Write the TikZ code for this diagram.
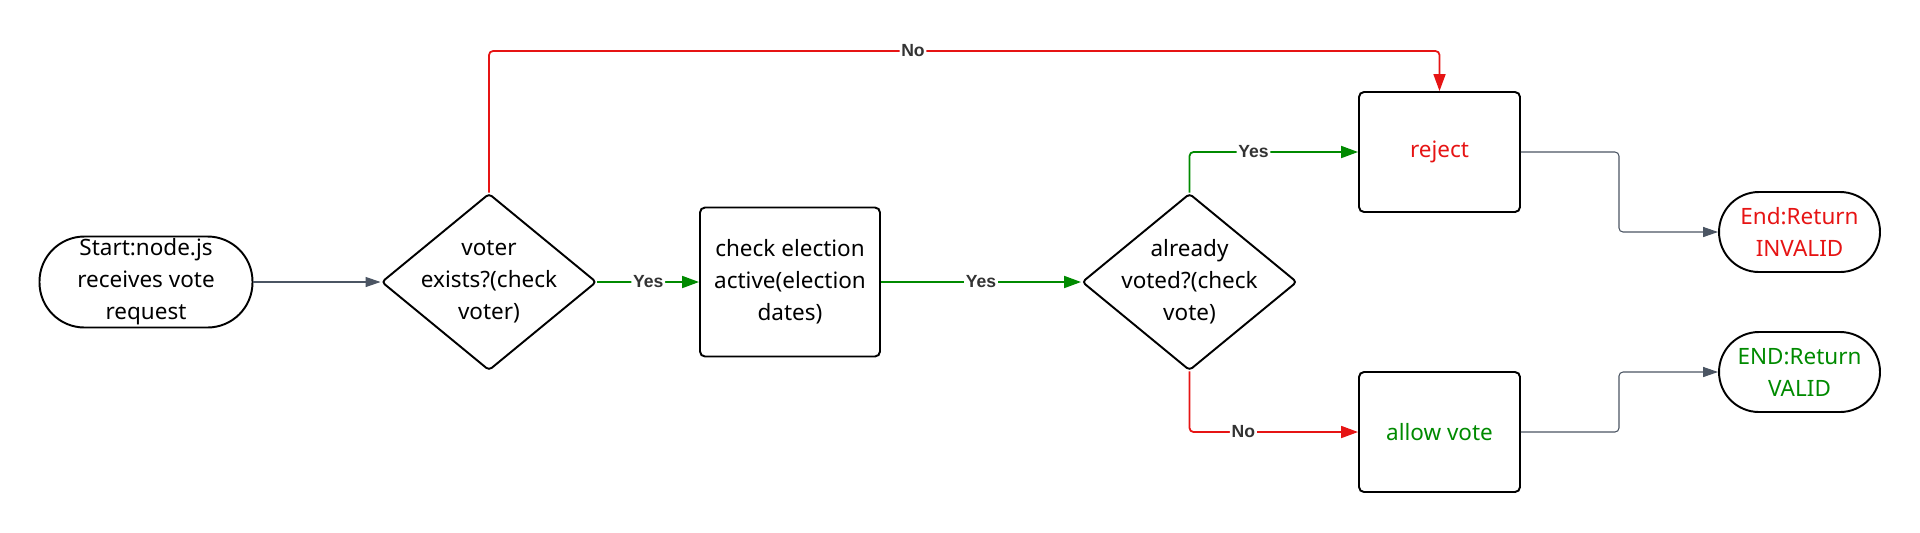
\documentclass[tikz,border=0pt]{standalone}
\usepackage{fontspec}
\setmainfont{Noto Sans}
\newfontfamily\labelfont{Liberation Sans}
\usepackage{tikz}
\usetikzlibrary{shapes.geometric,arrows.meta}
\definecolor{noRed}{RGB}{230,20,20}
\definecolor{yesGreen}{RGB}{0,138,0}
\definecolor{linkGray}{RGB}{75,85,99}
\definecolor{labelGray}{RGB}{51,51,51}

\begin{document}
\begin{tikzpicture}[
  every node/.style={font=\fontsize{12.8}{18.2}\selectfont, align=center},
  terminal/.style={draw, line width=1.1pt, rectangle, rounded corners=0.9cm, minimum width=4.26cm, minimum height=1.82cm, inner sep=0pt},
  endbox/.style={draw, line width=1.1pt, rectangle, rounded corners=0.8cm, minimum width=3.22cm, minimum height=1.6cm, inner sep=0pt},
  decision/.style={draw, diamond, line width=1.1pt, rounded corners=2pt, minimum width=4.3cm, minimum height=3.54cm, inner sep=-0.6cm},
  process/.style={draw, line width=1.1pt, rectangle, rounded corners=0.1cm, inner sep=0pt},
  edgelabel/.style={fill=white, text=labelGray, font=\labelfont\fontsize{10}{11}\selectfont\bfseries, inner sep=1pt},
  yesline/.style={draw=yesGreen, line width=1pt, rounded corners=0.08cm, -{Triangle[length=9.6pt,width=6.8pt]}},
  noline/.style={draw=noRed, line width=1pt, rounded corners=0.08cm, -{Triangle[length=9.6pt,width=6.8pt]}},
  plainline/.style={draw=linkGray, line width=0.6pt, rounded corners=0.08cm, -{Triangle[length=8.5pt,width=5.7pt]}}
]
  \useasboundingbox (0cm,0cm) rectangle (38.4cm,-10.64cm);
  \node[terminal] (start) at (2.92cm,-5.64cm) {Start:node.js\\receives vote\\request};
  \node[decision] (voter) at (9.78cm,-5.64cm) {voter\\exists?(check\\voter)};
  \node[process, minimum width=3.6cm, minimum height=2.98cm] (election) at (15.8cm,-5.64cm) {check election\\active(election\\dates)};
  \node[decision] (voted) at (23.79cm,-5.64cm) {already\\voted?(check\\vote)};
  \node[process, minimum width=3.22cm, minimum height=2.4cm, text=noRed] (reject) at (28.79cm,-3.04cm) {reject};
  \node[process, minimum width=3.22cm, minimum height=2.4cm, text=yesGreen] (allow) at (28.79cm,-8.64cm) {allow vote};
  \node[endbox, text=noRed] (invalid) at (35.99cm,-4.64cm) {End:Return\\INVALID};
  \node[endbox, text=yesGreen] (valid) at (35.99cm,-7.44cm) {END:Return\\VALID};
  \coordinate (noturn) at (18.26cm,-1.02cm);
  \draw[plainline] (start) -- (voter);
  \draw[yesline] (voter) -- node[edgelabel] {Yes} (election);
  \draw[yesline] (election) -- node[edgelabel] {Yes} (voted);
  \draw[noline] (voter.north) |- (noturn) node[edgelabel] {No} -| (reject.north);
  \draw[yesline] (voted.north) |- node[edgelabel, pos=0.69] {Yes} (reject.west);
  \draw[noline] (voted.south) |- node[edgelabel, pos=0.66] {No} (allow.west);
  \draw[plainline] (reject.east) -- ++(1.96cm,0cm) |- (invalid.west);
  \draw[plainline] (allow.east) -- ++(1.96cm,0cm) |- (valid.west);
\end{tikzpicture}
\end{document}
